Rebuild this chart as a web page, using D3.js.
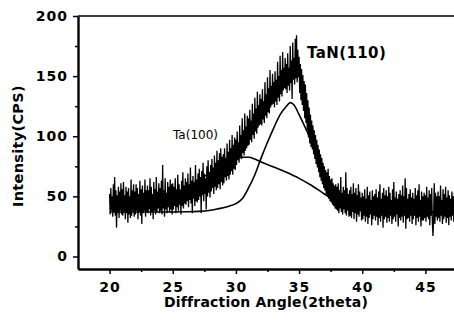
<!DOCTYPE html>
<html>
<head>
<meta charset="utf-8">
<script src="https://cdn.jsdelivr.net/npm/d3@7"></script>
<style>
  body { margin: 0; background: #fff; }
  svg text { font-family: "DejaVu Sans", sans-serif; fill: #000; }
</style>
</head>
<body>
<div id="chart"></div>
<script>
// measured intensity, one row per degree, sampled every 0.05 deg from 20.00
const angleStart = 20;
const angleStep = 0.05;
const intensityRows = [
  [52,35,57,38,50,33,60,37,66,34,55,24,51,36,58,32,54,38,61,35],
  [56,34,62,37,51,31,58,36,54,28,57,35,50,32,64,34,55,38,60,33],
  [54,35,60,38,57,31,52,37,63,34,56,27,59,36,53,38,64,33,55,37],
  [59,36,55,39,65,34,58,37,52,31,62,38,56,35,66,37,54,40,61,36],
  [57,38,63,35,76,40,55,33,65,39,53,36,62,41,58,37,64,39,60,35],
  [61,39,58,42,65,36,56,41,68,38,60,43,55,35,63,42,70,40,59,44],
  [65,43,62,46,69,41,60,47,74,44,63,36,67,48,61,42,76,46,64,45],
  [69,47,73,50,66,36,71,51,78,46,69,52,65,39,75,50,80,53,70,49],
  [76,54,81,57,74,52,84,58,78,55,88,57,80,60,86,56,90,62,83,59],
  [85,61,90,66,82,63,94,67,87,64,97,68,90,71,101,68,93,73,99,72],
  [97,76,104,80,95,78,109,83,101,81,115,86,105,84,119,88,108,90,117,92],
  [115,93,122,97,113,95,127,101,119,98,132,104,123,102,137,107,126,109,135,110],
  [131,109,139,114,129,111,145,117,135,115,149,120,140,119,155,124,142,126,152,127],
  [145,124,154,129,147,126,162,132,150,129,167,135,155,133,170,138,157,140,165,139],
  [160,136,169,142,157,138,175,144,163,131,178,147,165,143,181,148,184,145,172,149],
  [166,136,160,130,156,126,151,121,146,115,143,111,136,105,130,99,124,94,118,91],
  [113,89,109,85,105,81,101,77,97,74,93,70,89,66,85,63,82,60,78,57],
  [75,55,72,52,70,50,73,48,67,46,64,45,65,43,61,42,59,40,60,39],
  [58,38,61,36,55,40,66,37,53,35,58,39,55,36,70,34,57,38,52,33],
  [55,34,58,32,52,37,61,31,53,36,57,29,51,35,60,33,54,38,49,30],
  [53,31,50,34,56,29,48,33,58,27,51,32,54,35,47,26,55,31,50,34],
  [52,30,56,33,49,26,54,32,60,29,48,34,53,24,57,31,51,33,55,28],
  [50,32,58,29,53,34,47,27,56,31,62,33,49,29,54,35,48,25,52,32],
  [55,30,51,33,59,28,50,34,65,23,57,31,48,32,52,29,56,34,49,27],
  [53,31,48,34,57,26,51,32,55,29,60,33,47,25,54,30,50,30,53,32],
  [51,29,58,33,49,31,55,26,52,34,57,29,17,32,61,27,53,33,50,30],
  [54,32,50,29,59,34,47,27,56,31,52,33,58,28,49,32,55,26,51,33],
  [48,30,54,34,50,29,53,32,51,31,55,33,49,30,53,34,50,29,54,32]
];

// fitted peaks [angle, intensity]
const fitTa100 = [
  [20,40],[21,41.5],[22,43],[23,45],[24,48],[25,52],[26,57],[27,63],[28,70],
  [29,76.5],[30,81],[30.5,82.5],[31,82.5],[31.5,81],[32,78.5],[33,74.5],[34,70],
  [35,65],[36,59],[37,52],[38,45.5],[39,41.5],[40,39.5],[41,38.3],[42,37.6],
  [44,37.1],[48.5,37]
];
const fitTaN110 = [
  [20,37],[24,37],[26,37.2],[27,37.5],[28,38.5],[28.5,39.5],[29,40.5],[29.5,42],
  [30,44],[30.5,48],[31,57],[31.5,68],[32,82],[32.5,95],[33,107],[33.5,118],
  [34,125],[34.3,128],[34.6,126],[35,118],[35.5,107],[36,95],[36.5,80],[37,66],
  [37.5,55],[38,47],[38.5,42.5],[39,40],[40,38],[41,37.4],[43,37],[48.5,37]
];

const xMajor = [20, 25, 30, 35, 40, 45];
const xMinor = [22.5, 27.5, 32.5, 37.5, 42.5, 47.5];
const yMajor = [0, 50, 100, 150, 200];
const yMinor = [25, 75, 125, 175];

const W = 454, H = 323;
const plotLeft = 78, plotTop = 16, plotBottom = 269, plotRight = 469.6;

const svg = d3.select('#chart').append('svg')
  .attr('width', W).attr('height', H);

const x = d3.scaleLinear().domain([17.5, 48.5]).range([plotLeft, plotRight]);
const y = d3.scaleLinear().domain([-10.4, 200]).range([plotBottom, plotTop]);

const intensity = intensityRows.flat().map((v, i) => [angleStart + i * angleStep, v]);

svg.append('clipPath').attr('id', 'plot')
  .append('rect').attr('x', plotLeft).attr('y', plotTop)
  .attr('width', plotRight - plotLeft).attr('height', plotBottom - plotTop);

const g = svg.append('g').attr('clip-path', 'url(#plot)');

g.append('path')
  .datum(intensity)
  .attr('fill', 'none')
  .attr('stroke', '#000')
  .attr('stroke-width', 1.3)
  .attr('stroke-linejoin', 'miter')
  .attr('d', d3.line().x(d => x(d[0])).y(d => y(d[1])));

const smooth = d3.line().curve(d3.curveMonotoneX).x(d => x(d[0])).y(d => y(d[1]));
[fitTa100, fitTaN110].forEach(fit => {
  g.append('path')
    .datum(fit)
    .attr('fill', 'none')
    .attr('stroke', '#000')
    .attr('stroke-width', 1.6)
    .attr('d', smooth);
});

// top frame line
svg.append('line')
  .attr('x1', plotLeft).attr('x2', W).attr('y1', plotTop).attr('y2', plotTop)
  .attr('stroke', '#000').attr('stroke-width', 1.6);

// x axis
const xAxis = svg.append('g')
  .attr('transform', `translate(0,${plotBottom})`)
  .call(d3.axisBottom(x).tickValues(xMajor).tickSize(5).tickSizeOuter(0).tickFormat(d3.format('d')));
svg.append('g')
  .attr('transform', `translate(0,${plotBottom})`)
  .call(d3.axisBottom(x).tickValues(xMinor).tickSize(3).tickSizeOuter(0).tickFormat(''))
  .select('.domain').remove();

// y axis
const yAxis = svg.append('g')
  .attr('transform', `translate(${plotLeft},0)`)
  .call(d3.axisLeft(y).tickValues(yMajor).tickSize(5).tickPadding(5).tickSizeOuter(0));
svg.append('g')
  .attr('transform', `translate(${plotLeft},0)`)
  .call(d3.axisLeft(y).tickValues(yMinor).tickSize(3).tickSizeOuter(0).tickFormat(''))
  .select('.domain').remove();

svg.selectAll('.domain').attr('stroke-width', 2.4);
svg.selectAll('.tick line').attr('stroke-width', 1.5);

xAxis.selectAll('text')
  .attr('dy', null).attr('y', 23)
  .style('font-size', '14px').style('font-weight', 'bold').style('letter-spacing', '1px');
yAxis.selectAll('text')
  .style('font-size', '14px').style('font-weight', 'bold').style('letter-spacing', '1px');

// axis titles
svg.append('text')
  .attr('x', 266).attr('y', 307)
  .attr('text-anchor', 'middle')
  .style('font-size', '14px').style('font-weight', 'bold').style('letter-spacing', '0.2px')
  .text('Diffraction Angle(2theta)');

svg.append('text')
  .attr('transform', 'translate(23,146) rotate(-90)')
  .attr('text-anchor', 'middle')
  .style('font-size', '14.5px').style('font-weight', 'bold').style('letter-spacing', '0.3px')
  .text('Intensity(CPS)');

// peak labels
svg.append('text')
  .attr('x', 307).attr('y', 58)
  .style('font-size', '15px').style('font-weight', 'bold').style('letter-spacing', '0.4px')
  .text('TaN(110)');

svg.append('text')
  .attr('x', 173).attr('y', 139)
  .style('font-size', '12px')
  .text('Ta(100)');
</script>
</body>
</html>
